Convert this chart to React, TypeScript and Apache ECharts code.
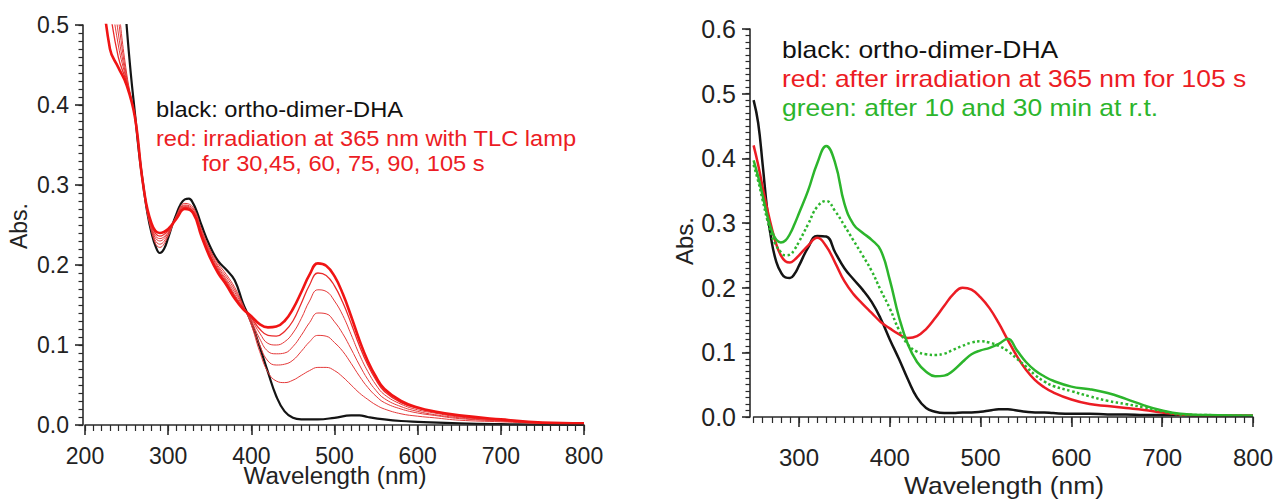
import React, { useEffect, useRef } from "react";
import * as echarts from "echarts";

// ---------- Left panel data ----------
const LEFT_BLACK_WL = [240, 245, 250, 255, 260, 265, 270, 275, 280, 285, 290, 295, 300, 305, 310, 315, 320, 325, 330, 335, 340, 350, 360, 370, 380, 390, 400, 410, 420, 430, 440, 450, 460, 480, 500, 520, 530, 540, 560, 580, 600, 650, 700, 800];
const LEFT_BLACK_A = [0.64, 0.57, 0.50, 0.44, 0.39, 0.34, 0.30, 0.265, 0.24, 0.223, 0.215, 0.22, 0.234, 0.25, 0.264, 0.276, 0.282, 0.283, 0.277, 0.265, 0.25, 0.224, 0.205, 0.194, 0.181, 0.152, 0.128, 0.098, 0.066, 0.036, 0.017, 0.009, 0.007, 0.007, 0.009, 0.012, 0.012, 0.01, 0.007, 0.005, 0.004, 0.002, 0.001, 0.0];

const LEFT_RED_WL = [220, 230, 240, 250, 260, 270, 280, 290, 300, 310, 320, 330, 340, 350, 360, 370, 380, 390, 400, 410, 420, 430, 440, 450, 460, 470, 480, 490, 500, 510, 520, 530, 540, 550, 560, 580, 600, 620, 650, 700, 750, 800];
const RED_30S = [0.78, 0.66, 0.53, 0.44, 0.385, 0.30, 0.242, 0.222, 0.236, 0.262, 0.277, 0.272, 0.245, 0.22, 0.202, 0.188, 0.172, 0.15, 0.125, 0.092, 0.066, 0.055, 0.053, 0.056, 0.062, 0.068, 0.072, 0.072, 0.068, 0.06, 0.05, 0.04, 0.032, 0.025, 0.02, 0.014, 0.011, 0.009, 0.006, 0.004, 0.002, 0.001];
const RED_45S = [0.74, 0.62, 0.51, 0.435, 0.385, 0.30, 0.244, 0.226, 0.238, 0.261, 0.275, 0.27, 0.243, 0.218, 0.199, 0.185, 0.169, 0.149, 0.128, 0.10, 0.08, 0.075, 0.076, 0.081, 0.092, 0.104, 0.112, 0.111, 0.103, 0.092, 0.077, 0.061, 0.047, 0.036, 0.028, 0.02, 0.015, 0.012, 0.008, 0.005, 0.003, 0.002];
const RED_60S = [0.70, 0.58, 0.49, 0.432, 0.384, 0.30, 0.246, 0.23, 0.24, 0.26, 0.274, 0.268, 0.241, 0.216, 0.197, 0.182, 0.166, 0.148, 0.13, 0.108, 0.092, 0.089, 0.09, 0.098, 0.112, 0.128, 0.14, 0.139, 0.129, 0.114, 0.095, 0.075, 0.057, 0.043, 0.033, 0.023, 0.017, 0.013, 0.009, 0.005, 0.003, 0.002];
const RED_75S = [0.66, 0.55, 0.475, 0.43, 0.384, 0.30, 0.248, 0.233, 0.241, 0.259, 0.273, 0.267, 0.24, 0.214, 0.195, 0.18, 0.163, 0.147, 0.132, 0.115, 0.102, 0.1, 0.104, 0.115, 0.133, 0.155, 0.169, 0.167, 0.155, 0.137, 0.113, 0.088, 0.067, 0.05, 0.038, 0.026, 0.019, 0.015, 0.01, 0.006, 0.003, 0.002];
const RED_90S = [0.62, 0.52, 0.46, 0.428, 0.385, 0.30, 0.25, 0.236, 0.243, 0.259, 0.272, 0.266, 0.238, 0.212, 0.193, 0.178, 0.161, 0.146, 0.134, 0.12, 0.112, 0.111, 0.117, 0.13, 0.152, 0.175, 0.19, 0.187, 0.174, 0.153, 0.127, 0.099, 0.075, 0.056, 0.042, 0.028, 0.021, 0.016, 0.011, 0.006, 0.003, 0.002];
const RED_105S = [0.56, 0.47, 0.447, 0.425, 0.385, 0.30, 0.252, 0.24, 0.245, 0.258, 0.27, 0.265, 0.236, 0.21, 0.19, 0.175, 0.158, 0.145, 0.136, 0.126, 0.122, 0.123, 0.13, 0.145, 0.166, 0.188, 0.202, 0.199, 0.186, 0.164, 0.136, 0.106, 0.08, 0.06, 0.045, 0.03, 0.022, 0.017, 0.012, 0.007, 0.003, 0.002];

// ---------- Right panel data ----------
const RIGHT_WL = [250, 255, 260, 265, 270, 275, 280, 285, 290, 295, 300, 310, 320, 330, 340, 350, 360, 370, 380, 390, 400, 410, 420, 430, 440, 450, 460, 470, 480, 490, 500, 510, 520, 530, 540, 550, 560, 570, 580, 600, 620, 640, 660, 680, 700, 720, 750, 800];
const RIGHT_BLACK = [0.49, 0.455, 0.39, 0.32, 0.27, 0.24, 0.224, 0.216, 0.215, 0.221, 0.234, 0.262, 0.28, 0.279, 0.254, 0.23, 0.213, 0.197, 0.178, 0.152, 0.12, 0.09, 0.058, 0.03, 0.014, 0.008, 0.006, 0.006, 0.007, 0.007, 0.008, 0.01, 0.012, 0.012, 0.01, 0.008, 0.007, 0.007, 0.006, 0.005, 0.005, 0.004, 0.004, 0.003, 0.003, 0.003, 0.002, 0.002];
const RIGHT_RED = [0.42, 0.39, 0.355, 0.322, 0.292, 0.267, 0.25, 0.241, 0.239, 0.243, 0.25, 0.265, 0.277, 0.264, 0.238, 0.21, 0.19, 0.175, 0.161, 0.147, 0.137, 0.128, 0.122, 0.125, 0.136, 0.153, 0.172, 0.19, 0.2, 0.197, 0.185, 0.168, 0.145, 0.119, 0.094, 0.073, 0.057, 0.046, 0.038, 0.027, 0.02, 0.017, 0.014, 0.011, 0.007, 0.004, 0.002, 0.002];
const RIGHT_GREEN_SOLID = [0.397, 0.372, 0.342, 0.312, 0.288, 0.274, 0.27, 0.273, 0.283, 0.298, 0.315, 0.35, 0.392, 0.419, 0.392, 0.33, 0.298, 0.285, 0.274, 0.258, 0.212, 0.155, 0.112, 0.085, 0.07, 0.063, 0.064, 0.072, 0.085, 0.097, 0.103, 0.107, 0.113, 0.121, 0.103, 0.085, 0.072, 0.063, 0.056, 0.047, 0.043, 0.037, 0.028, 0.018, 0.01, 0.005, 0.003, 0.002];
const RIGHT_GREEN_DOTTED = [0.39, 0.365, 0.335, 0.305, 0.28, 0.265, 0.255, 0.25, 0.251, 0.259, 0.271, 0.298, 0.325, 0.334, 0.318, 0.296, 0.273, 0.25, 0.226, 0.196, 0.168, 0.135, 0.112, 0.101, 0.097, 0.096, 0.098, 0.104, 0.11, 0.115, 0.117, 0.115, 0.11, 0.102, 0.09, 0.078, 0.065, 0.055, 0.048, 0.04, 0.032, 0.025, 0.02, 0.015, 0.009, 0.004, 0.003, 0.002];

const LEFT_NOTES = ["black: ortho-dimer-DHA", "red: irradiation at 365 nm with TLC lamp", "for 30,45, 60, 75, 90, 105 s"];
const RIGHT_NOTES = ["black: ortho-dimer-DHA", "red: after irradiation at 365 nm for 105 s", "green: after 10 and 30 min at r.t."];
const X_TITLE = "Wavelength (nm)";
const Y_TITLE = "Abs.";

const FONT = "'Liberation Sans', Arial, Helvetica, sans-serif";
const AXIS_COLOR = "#2a2a2a";
const BLACK = "#141414";
const RED = "#ec1c24";
const GREEN = "#2cb52c";

const zip = (xs: number[], ys: number[]) => xs.map((x, i) => [x, ys[i]]);

function lineSeries(name: string, data: number[][], xi: number, yi: number, color: string, width: number, type: string = "solid") {
  return {
    name,
    type: "line",
    xAxisIndex: xi,
    yAxisIndex: yi,
    data,
    showSymbol: false,
    smooth: 0.45,
    clip: true,
    lineStyle: { color, width, type },
    itemStyle: { color },
    z: 3,
  };
}

// fine-tick axis (short ticks every 10 nm / 0.01, no labels)
function fineAxis(gridIndex: number, position: string, min: number, max: number, interval: number, offset: number, len: number) {
  return {
    type: "value",
    gridIndex,
    position,
    min,
    max,
    interval,
    offset,
    z: 5,
    axisLine: { show: true, lineStyle: { color: AXIS_COLOR, width: 1.6 } },
    axisTick: { show: true, inside: false, length: len, lineStyle: { color: AXIS_COLOR, width: 1.2, opacity: 1 } },
    axisLabel: { show: false },
    splitLine: { show: false },
  };
}

// labelled axis (long ticks, labels)
function labelAxis(gridIndex: number, position: string, min: number, max: number, interval: number | undefined, offset: number, len: number, fontSize: number, margin: number, decimals: number) {
  const ax: any = {
    type: "value",
    gridIndex,
    position,
    min,
    max,
    offset,
    z: 5,
    axisLine: { show: false },
    axisTick: { show: true, inside: false, length: len, lineStyle: { color: AXIS_COLOR, width: 1.6, opacity: 1 } },
    axisLabel: {
      color: "#222",
      fontSize,
      fontFamily: FONT,
      margin,
      showMinLabel: interval !== undefined,
      formatter: (v: number) => v.toFixed(decimals),
    },
    splitLine: { show: false },
  };
  if (interval !== undefined) ax.interval = interval;
  return ax;
}

export default function App() {
  const ref = useRef<HTMLDivElement>(null);

  useEffect(() => {
    if (!ref.current) return;
    const chart = echarts.init(ref.current, undefined, { renderer: "svg" });

    const option: any = {
      animation: false,
      backgroundColor: "#ffffff",
      grid: [
        { left: 85, top: 25, width: 499, height: 400 },
        { left: 753.6, top: 29, width: 499.4, height: 388 },
      ],
      xAxis: [
        fineAxis(0, "bottom", 200, 800, 10, 2, 6),
        labelAxis(0, "bottom", 200, 800, 100, 2, 10, 23, 17, 0),
        fineAxis(1, "bottom", 250, 800, 10, 8, 6),
        labelAxis(1, "bottom", 250, 800, undefined, 8, 10, 24, 20, 0),
      ],
      yAxis: [
        fineAxis(0, "left", 0, 0.5, 0.01, 2, 4.5),
        labelAxis(0, "left", 0, 0.5, 0.1, 2, 8, 23, 14, 1),
        fineAxis(1, "left", 0, 0.6, 0.01, 3.6, 4.5),
        labelAxis(1, "left", 0, 0.6, 0.1, 3.6, 8, 25, 14, 1),
      ],
      series: [
        lineSeries("black (left)", zip(LEFT_BLACK_WL, LEFT_BLACK_A), 0, 0, BLACK, 2.2),
        lineSeries("30 s", zip(LEFT_RED_WL, RED_30S), 0, 0, "#e43a3a", 1),
        lineSeries("45 s", zip(LEFT_RED_WL, RED_45S), 0, 0, "#e43a3a", 1),
        lineSeries("60 s", zip(LEFT_RED_WL, RED_60S), 0, 0, "#e43a3a", 1),
        lineSeries("75 s", zip(LEFT_RED_WL, RED_75S), 0, 0, "#e43a3a", 1),
        lineSeries("90 s", zip(LEFT_RED_WL, RED_90S), 0, 0, "#ea2a2a", 1.3),
        lineSeries("105 s", zip(LEFT_RED_WL, RED_105S), 0, 0, "#f01414", 2.6),
        lineSeries("black (right)", zip(RIGHT_WL, RIGHT_BLACK), 2, 2, BLACK, 2.5),
        lineSeries("red (right)", zip(RIGHT_WL, RIGHT_RED), 2, 2, RED, 2.5),
        lineSeries("green dotted", zip(RIGHT_WL, RIGHT_GREEN_DOTTED), 2, 2, GREEN, 2.5, "dotted"),
        lineSeries("green solid", zip(RIGHT_WL, RIGHT_GREEN_SOLID), 2, 2, GREEN, 2.5),
      ],
      graphic: [
        // left annotations
        { type: "text", x: 156, y: 110, scaleX: 1.1, style: { text: LEFT_NOTES[0], fill: "#111", font: `21.5px ${FONT}`, textAlign: "left", textVerticalAlign: "middle" } },
        { type: "text", x: 156, y: 139, scaleX: 1.1, style: { text: LEFT_NOTES[1], fill: RED, font: `21.5px ${FONT}`, textAlign: "left", textVerticalAlign: "middle" } },
        { type: "text", x: 202, y: 164, scaleX: 1.1, style: { text: LEFT_NOTES[2], fill: RED, font: `21.5px ${FONT}`, textAlign: "left", textVerticalAlign: "middle" } },
        // right annotations
        { type: "text", x: 782, y: 50, scaleX: 1.15, style: { text: RIGHT_NOTES[0], fill: "#111", font: `23px ${FONT}`, textAlign: "left", textVerticalAlign: "middle" } },
        { type: "text", x: 782, y: 79.5, scaleX: 1.15, style: { text: RIGHT_NOTES[1], fill: RED, font: `23px ${FONT}`, textAlign: "left", textVerticalAlign: "middle" } },
        { type: "text", x: 782, y: 108.5, scaleX: 1.15, style: { text: RIGHT_NOTES[2], fill: GREEN, font: `23px ${FONT}`, textAlign: "left", textVerticalAlign: "middle" } },
        // axis titles
        { type: "text", x: 335, y: 476, scaleX: 1.05, style: { text: X_TITLE, fill: "#222", font: `23px ${FONT}`, textAlign: "center", textVerticalAlign: "middle" } },
        { type: "text", x: 1004, y: 485, scaleX: 1.1, style: { text: X_TITLE, fill: "#222", font: `24px ${FONT}`, textAlign: "center", textVerticalAlign: "middle" } },
        { type: "text", x: 19, y: 226, rotation: Math.PI / 2, style: { text: Y_TITLE, fill: "#222", font: `23px ${FONT}`, textAlign: "center", textVerticalAlign: "middle" } },
        { type: "text", x: 684, y: 241, rotation: Math.PI / 2, style: { text: Y_TITLE, fill: "#222", font: `24px ${FONT}`, textAlign: "center", textVerticalAlign: "middle" } },
      ],
    };

    chart.setOption(option);
    return () => chart.dispose();
  }, []);

  return (
    <div
      ref={ref}
      style={{ position: "fixed", left: 0, top: 0, width: 1276, height: 504, background: "#fff" }}
    />
  );
}
